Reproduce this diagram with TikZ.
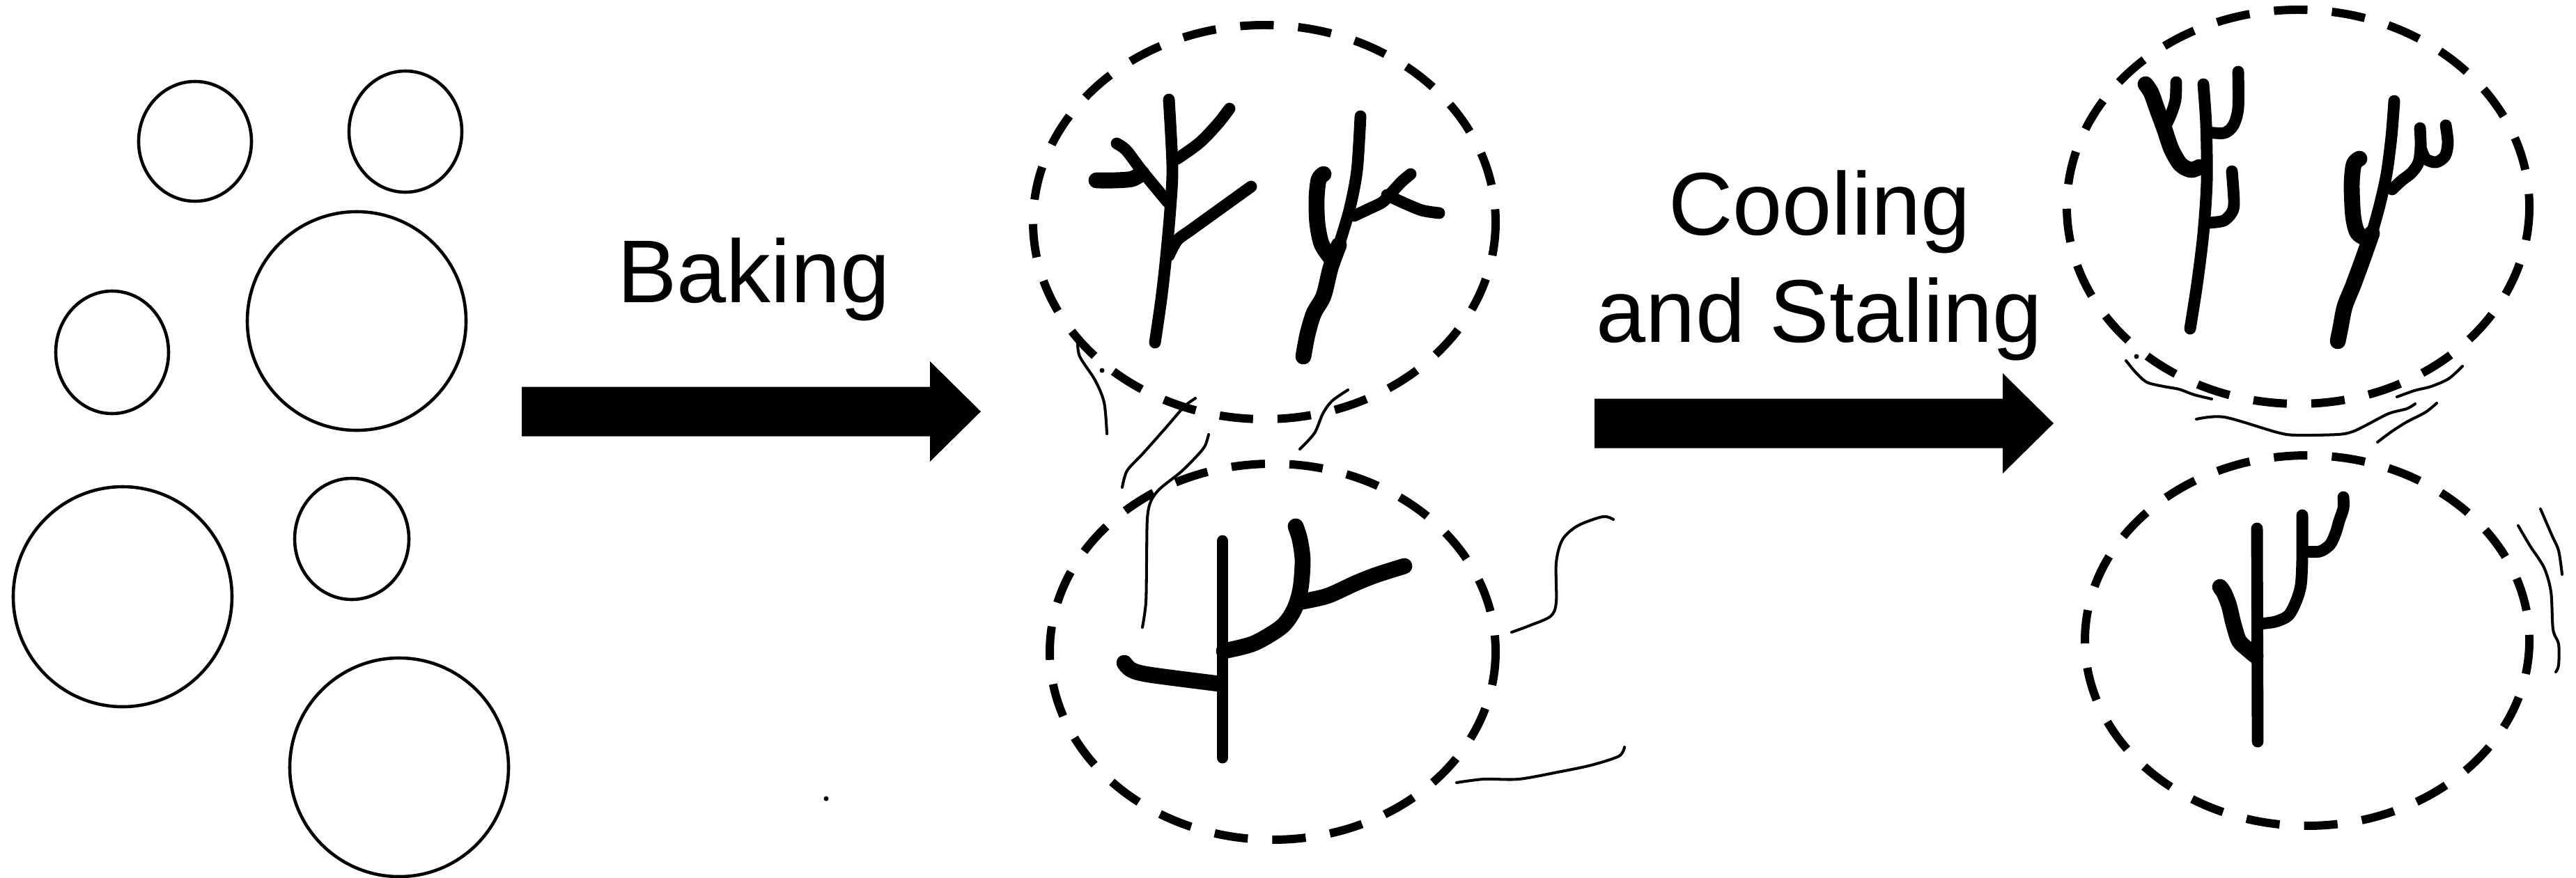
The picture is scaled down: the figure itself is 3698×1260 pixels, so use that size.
\documentclass[tikz,border=0pt]{standalone}
\usepackage{fontspec}
\setmainfont{Liberation Sans}
\tikzset
{%
bubble/.style={draw, line width=1.3pt},
crumb/.style={draw, line width=3.4pt, dash pattern=on 13.7pt off 10pt},
stem/.style={line width=4.8pt, line cap=round, line join=round},
fat/.style={stem, line width=6.5pt},
hair/.style={line width=1.15pt, line cap=round, line join=round},
lbl/.style={inner sep=0pt, anchor=base, font=\fontsize{36.4}{44}\selectfont},
bigarrow/.pic={
	\fill (0,-35.5) -- (586,-35.5) -- (586,-72) -- (659,0) -- (586,72) -- (586,35.5) -- (0,35.5) -- cycle;
}
}

\begin{document}
\begin{tikzpicture}[x=0.01cm, y=-0.01cm]
	\useasboundingbox (0,0) rectangle (3698,1260);

	% DOUGH: starch granules
	\draw[bubble] (280,203) ellipse [x radius=81, y radius=86];
	\draw[bubble] (582,189) ellipse [x radius=81, y radius=87];
	\draw[bubble] (512,461) ellipse [x radius=157, y radius=157];
	\draw[bubble] (161,506) ellipse [x radius=81, y radius=88];
	\draw[bubble] (176,857) ellipse [x radius=157, y radius=158];
	\draw[bubble] (505,774) ellipse [x radius=82, y radius=87];
	\draw[bubble] (573,1102) ellipse [x radius=157, y radius=157];
	\fill (1186,1147) circle[radius=3.5];

	% arrows and labels
	\pic at (749,591) {bigarrow};
	\pic at (2289,608) {bigarrow};
	\node[lbl] (baking) at (1082,434) {Baking};
	\node[lbl] (cooling) at (2612,337) {Cooling};
	\node[lbl] (staling) at (2612,491) {and Staling};

	% BAKED: gelatinised granules
	\draw[crumb] (1815,319) ellipse [x radius=332, y radius=283];
	\draw[crumb] (1827,936) ellipse [x radius=320, y radius=270];

	%Granule 1
	\draw[stem] plot[smooth] coordinates {(1678,143) (1683,240) (1680,300) (1674,368) (1667,430) (1658,492)};
	\draw[stem] plot[smooth] coordinates {(1690,228) (1722,205) (1748,178) (1765,156)};
	\draw[stem] plot[smooth] coordinates {(1676,290) (1639,245) (1617,216) (1603,206)};
	\draw[fat] plot[smooth] coordinates {(1639,249) (1625,257) (1600,259) (1574,259)};
	\draw[stem] plot[smooth] coordinates {(1678,367) (1690,345) (1710,330) (1746,304) (1796,268)};

	%Granule 2
	\draw[stem] plot[smooth] coordinates {(1953,167) (1948,245) (1937,302) (1922,352)};
	\draw[fat] plot[smooth] coordinates {(1922,352) (1910,385) (1900,425) (1886,450) (1877,480) (1871,512)};
	\draw[fat] plot[smooth] coordinates {(1910,370) (1897,350) (1891,320) (1890,285) (1893,258) (1900,250)};
	\draw[stem] plot[smooth] coordinates {(1944,310) (1965,300) (1985,290) (2000,274) (2012,261) (2025,250)};
	\draw[stem] plot[smooth] coordinates {(1991,280) (2012,290) (2041,302) (2066,306)};

	%Granule 3
	\draw[stem] (1755,777) -- (1755,1088);
	\draw[fat] plot[smooth] coordinates {(1750,982) (1650,969) (1624,962) (1614,952)};
	\draw[fat] plot[smooth] coordinates {(1757,935) (1800,924) (1840,900) (1858,875) (1867,845) (1870,805) (1866,775) (1860,756)};
	\draw[fat] plot[smooth] coordinates {(1864,865) (1905,856) (1945,838) (1975,826) (2016,813)};

	% leached amylose
	\draw[hair] plot[smooth] coordinates {(1547,490) (1550,512) (1572,546) (1585,578) (1589,623)};
	\fill (1582,532) circle[radius=3.5];
	\draw[hair] plot[smooth] coordinates {(1716,572) (1700,584) (1673,615) (1641,651) (1618,676) (1611,700)};
	\draw[hair] plot[smooth] coordinates {(1735,624) (1730,640) (1719,654) (1695,678) (1665,702) (1652,720) (1647,745) (1646,805) (1645,865) (1640,901)};
	\draw[hair] plot[smooth] coordinates {(1935,560) (1912,576) (1899,594) (1887,622) (1866,645)};
	\draw[hair] plot[smooth] coordinates {(2316,746) (2301,742) (2265,755) (2243,775) (2234,808) (2234,865) (2226,885) (2197,898) (2170,908)};
	\draw[hair] plot[smooth] coordinates {(2332,1073) (2324,1086) (2284,1099) (2236,1109) (2180,1119) (2130,1119) (2091,1124)};

	% STALED: retrograded granules
	\draw[crumb] (3299,297) ellipse [x radius=332, y radius=283];
	\draw[crumb] (3312,920) ellipse [x radius=319, y radius=266];

	%Granule 4
	\draw[stem] plot[smooth] coordinates {(3163,121) (3167,180) (3168,260) (3163,335) (3154,408) (3144,472)};
	\draw[fat] plot[smooth] coordinates {(3157,240) (3145,244) (3130,236) (3117,214) (3107,185) (3096,155) (3088,133) (3080,121)};
	\draw[stem] plot[smooth] coordinates {(3107,185) (3117,163) (3123,143) (3124,118)};
	\draw[stem] plot[smooth] coordinates {(3170,190) (3193,191) (3206,180) (3213,155) (3213,103)};
	\draw[stem] plot[smooth] coordinates {(3170,320) (3192,317) (3204,305) (3207,290) (3204,246)};

	%Granule 5
	\draw[stem] plot[smooth] coordinates {(3437,145) (3433,196) (3426,250) (3416,295) (3405,335)};
	\draw[fat] plot[smooth] coordinates {(3405,335) (3392,372) (3378,410) (3366,440) (3360,470) (3356,490)};
	\draw[fat] plot[smooth] coordinates {(3396,342) (3384,334) (3378,310) (3376,265) (3379,236) (3387,228)};
	\draw[stem] plot[smooth] coordinates {(3434,272) (3448,259) (3462,248) (3472,233) (3475,210) (3474,184)};
	\draw[stem] plot[smooth] coordinates {(3475,212) (3482,228) (3497,233) (3510,224) (3514,205) (3511,180)};

	%Granule 6
	\draw[stem] (3240,759) -- (3241,1065);
	\draw[fat] plot[smooth] coordinates {(3238,942) (3226,932) (3214,920) (3206,895) (3200,870) (3193,852) (3187,843)};
	\draw[stem] plot[smooth] coordinates {(3242,896) (3266,893) (3285,884) (3296,864) (3303,840) (3305,800) (3305,740)};
	\draw[stem] plot[smooth] coordinates {(3306,792) (3330,792) (3345,782) (3353,765) (3358,748) (3364,730) (3364,714)};

	% leached amylose
	\draw[hair] plot[smooth] coordinates {(3052,518) (3066,535) (3082,549) (3106,555) (3128,559) (3150,567) (3175,573)};
	\fill (3067,512) circle[radius=3.5];
	\draw[hair] plot[smooth] coordinates {(3535,526) (3515,544) (3490,555) (3466,561) (3441,570)};
	\draw[hair] plot[smooth] coordinates {(3153,602) (3193,599) (3269,621) (3297,625) (3356,624) (3377,620) (3396,611) (3429,594) (3455,587) (3467,580)};
	\draw[hair] plot[smooth] coordinates {(3498,579) (3482,592) (3455,606) (3433,620) (3413,635)};
	\draw[hair] plot[smooth] coordinates {(3615,755) (3632,784) (3652,815) (3662,850) (3665,904) (3673,925) (3673,955) (3669,965)};
	\draw[hair] plot[smooth] coordinates {(3647,731) (3663,768) (3673,791) (3678,825)};
\end{tikzpicture}
\end{document}
